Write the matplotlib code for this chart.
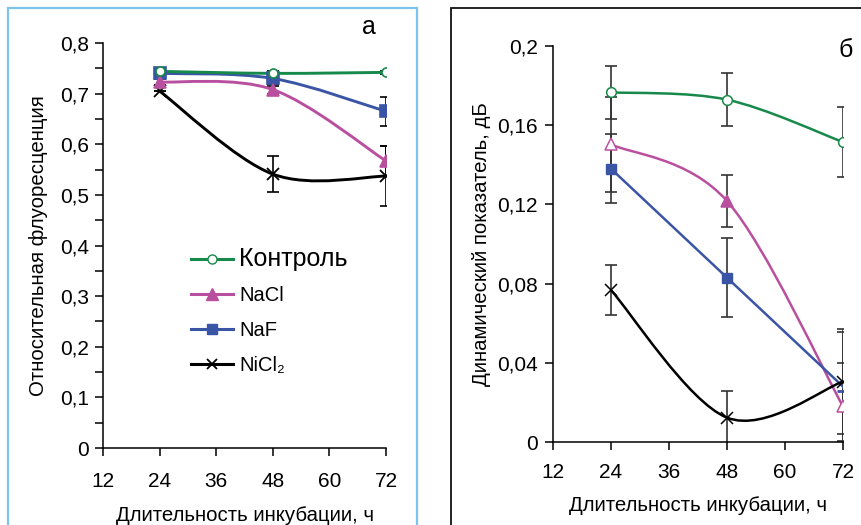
import numpy as np
import matplotlib
matplotlib.use("Agg")
import matplotlib.pyplot as plt
from matplotlib.path import Path
from matplotlib.patches import PathPatch, Rectangle
from matplotlib.lines import Line2D
from matplotlib.ticker import FixedLocator, FuncFormatter

plt.rcParams['font.family'] = ['Liberation Sans', 'DejaVu Sans']

# ---------------- data ----------------
hours = [24, 48, 72]
x_ticks = [12, 24, 36, 48, 60, 72]

# panel а: relative fluorescence
a_control = [0.744, 0.740, 0.742]
a_control_err = [0.004, 0.004, 0.003]
a_nacl = [0.723, 0.708, 0.567]
a_nacl_err = [0.006, 0.008, 0.029]
a_naf = [0.740, 0.730, 0.665]
a_naf_err = [0.008, 0.010, 0.029]
a_nicl2 = [0.705, 0.541, 0.537]
a_nicl2_err = [0.0, 0.035, 0.059]

# panel б: dynamic index, dB
b_control = [0.1766, 0.1729, 0.1515]
b_control_err = [0.0135, 0.0135, 0.0175]
b_nacl = [0.1503, 0.1217, 0.018]
b_nacl_err = [0.024, 0.0133, 0.022]
b_naf = [0.138, 0.083, 0.028]
b_naf_err = [0.0175, 0.020, 0.0275]
b_nicl2 = [0.0767, 0.0123, 0.0305]
b_nicl2_err = [0.0126, 0.0134, 0.0265]

labels = ['Контроль', 'NaCl', 'NaF', 'NiCl₂']
GREEN = '#17894a'
PINK = '#b9509f'
BLUE = '#3a55a6'
BLACK = '#000000'

TICK_FS = 15
LABEL_FS = 14.7


def smooth_path(ax, xs, ys, **kw):
    """Excel-like smoothed line (Catmull-Rom as cubic Bezier) through data points."""
    x0, x1 = ax.get_xlim()
    y0, y1 = ax.get_ylim()
    p = np.column_stack([(np.asarray(xs) - x0) / (x1 - x0),
                         (np.asarray(ys) - y0) / (y1 - y0)])
    n = len(p)
    verts = [p[0]]
    codes = [Path.MOVETO]
    for i in range(n - 1):
        pm = p[i - 1] if i > 0 else p[i]
        pn = p[i + 2] if i + 2 < n else p[i + 1]
        c1 = p[i] + (p[i + 1] - pm) / 6.0
        c2 = p[i + 1] - (pn - p[i]) / 6.0
        verts += [c1, c2, p[i + 1]]
        codes += [Path.CURVE4] * 3
    verts = np.array(verts)
    verts[:, 0] = x0 + verts[:, 0] * (x1 - x0)
    verts[:, 1] = y0 + verts[:, 1] * (y1 - y0)
    patch = PathPatch(Path(verts, codes), fill=False, **kw)
    ax.add_patch(patch)
    return patch


def comma(v, pos):
    s = ('%g' % round(v, 3))
    return s.replace('.', ',')


fig = plt.figure(figsize=(8.61, 5.25), dpi=100)

# panel frames
fig.patches.append(Rectangle((8 / 861, -0.05), (417 - 8) / 861, 1.05 - 8 / 525,
                             transform=fig.transFigure, fill=False,
                             edgecolor='#7cc4ee', linewidth=1.6))
fig.patches.append(Rectangle((451 / 861, -0.05), (900 - 451) / 861, 1.05 - 8 / 525,
                             transform=fig.transFigure, fill=False,
                             edgecolor='#111111', linewidth=1.3))

# ---------------- panel а ----------------
axA = fig.add_axes([103 / 861, 1 - 448 / 525, (386 - 103) / 861, (448 - 43) / 525])
axA.set_xlim(12, 72)
axA.set_ylim(0, 0.8)
for s in ['top', 'right']:
    axA.spines[s].set_visible(False)
axA.patch.set_alpha(0)
axA.set_xticks(x_ticks)
axA.set_yticks(np.arange(0, 0.81, 0.1))
axA.yaxis.set_minor_locator(FixedLocator(np.arange(0.05, 0.8, 0.1)))
axA.yaxis.set_major_formatter(FuncFormatter(comma))
axA.tick_params(axis='y', which='major', length=6, width=1.1, labelsize=TICK_FS, pad=4)
axA.tick_params(axis='y', which='minor', length=6, width=1.1)
axA.tick_params(axis='x', length=6, width=1.1, labelsize=TICK_FS, pad=11)
axA.spines['left'].set_linewidth(1.1)
axA.spines['bottom'].set_linewidth(1.1)
axA.set_ylabel('Относительная флуоресценция', fontsize=LABEL_FS, labelpad=9)
axA.set_xlabel('Длительность инкубации, ч', fontsize=LABEL_FS, labelpad=11)

a_series = [(a_control, a_control_err, GREEN, 'o', 'white'),
            (a_nacl, a_nacl_err, PINK, '^', PINK),
            (a_naf, a_naf_err, BLUE, 's', BLUE),
            (a_nicl2, a_nicl2_err, BLACK, 'x', BLACK)]
for vals, err, col, m, fc in a_series[::-1]:
    axA.errorbar(hours, vals, yerr=err, fmt='none', ecolor='black', elinewidth=1.2,
                 capsize=4.5, capthick=1.2, zorder=2)
for vals, err, col, m, fc in a_series[::-1]:
    smooth_path(axA, hours, vals, edgecolor=col, linewidth=2.1, zorder=3)
    axA.plot(hours, vals, linestyle='none', marker=m, markersize=8 if m != 'o' else 6.5,
             markerfacecolor=fc, markeredgecolor=col, markeredgewidth=1.2 if m != 'x' else 1.3,
             zorder=4)

handles = [Line2D([], [], color=GREEN, lw=2.2, marker='o', ms=6.5, mfc='white', mec=GREEN),
           Line2D([], [], color=PINK, lw=2.2, marker='^', ms=8, mfc=PINK, mec=PINK),
           Line2D([], [], color=BLUE, lw=2.2, marker='s', ms=7, mfc=BLUE, mec=BLUE),
           Line2D([], [], color=BLACK, lw=2.2, marker='x', ms=7, mec=BLACK, mew=1.3)]
leg = axA.legend(handles, labels, loc='upper left', bbox_to_anchor=(0.26, 0.532),
                 frameon=False, fontsize=14.5, handlelength=2.1, handletextpad=0.3,
                 labelspacing=0.78, borderpad=0.2)
leg.get_texts()[0].set_fontsize(18)

axA.text(0.94, 1.01, 'а', transform=axA.transAxes, fontsize=18, ha='center', va='bottom')

# ---------------- panel б ----------------
axB = fig.add_axes([553 / 861, 1 - 442 / 525, (843 - 553) / 861, (442 - 46) / 525])
axB.set_xlim(12, 72)
axB.set_ylim(0, 0.2)
for s in ['top', 'right']:
    axB.spines[s].set_visible(False)
axB.patch.set_alpha(0)
axB.set_xticks(x_ticks)
axB.set_yticks([0, 0.04, 0.08, 0.12, 0.16, 0.2])
axB.yaxis.set_major_formatter(FuncFormatter(comma))
axB.tick_params(axis='y', length=6, width=1.1, labelsize=TICK_FS, pad=5)
axB.tick_params(axis='x', length=6, width=1.1, labelsize=TICK_FS, pad=9)
axB.spines['left'].set_linewidth(1.1)
axB.spines['bottom'].set_linewidth(1.1)
axB.set_ylabel('Динамический показатель, дБ', fontsize=LABEL_FS, labelpad=4)
axB.set_xlabel('Длительность инкубации, ч', fontsize=LABEL_FS, labelpad=10)

ERR = '#333333'
b_series = [(b_control, b_control_err, GREEN, True),
            (b_nacl, b_nacl_err, PINK, True),
            (b_naf, b_naf_err, BLUE, False),
            (b_nicl2, b_nicl2_err, BLACK, True)]
for vals, err, col, smooth in b_series:
    axB.errorbar(hours, vals, yerr=err, fmt='none', ecolor=ERR, elinewidth=1.2,
                 capsize=4, capthick=1.2, zorder=2)
for vals, err, col, smooth in b_series:
    if smooth:
        smooth_path(axB, hours, vals, edgecolor=col, linewidth=1.8, zorder=3)
    else:
        axB.plot(hours, vals, color=col, lw=1.8, zorder=3)

axB.plot(hours, b_control, linestyle='none', marker='o', ms=7, mfc='white', mec=GREEN,
         mew=1.1, zorder=4)
nacl_face = ['white', PINK, 'white']
for h, v, fc in zip(hours, b_nacl, nacl_face):
    axB.plot([h], [v], linestyle='none', marker='^', ms=8, mfc=fc, mec=PINK, mew=1.1, zorder=4)
axB.plot(hours[:2], b_naf[:2], linestyle='none', marker='s', ms=7, mfc=BLUE, mec=BLUE, zorder=4)
axB.plot(hours[2:], [b_naf[2] - 0.002], linestyle='none', marker='_', ms=8, mec=BLUE, mew=2, zorder=4)
axB.plot(hours, b_nicl2, linestyle='none', marker='x', ms=8, mec=BLACK, mew=1.1, zorder=5)

axB.text(1.01, 0.99, 'б', transform=axB.transAxes, fontsize=18, ha='center', va='center')

fig.savefig('out.png', dpi=100)
